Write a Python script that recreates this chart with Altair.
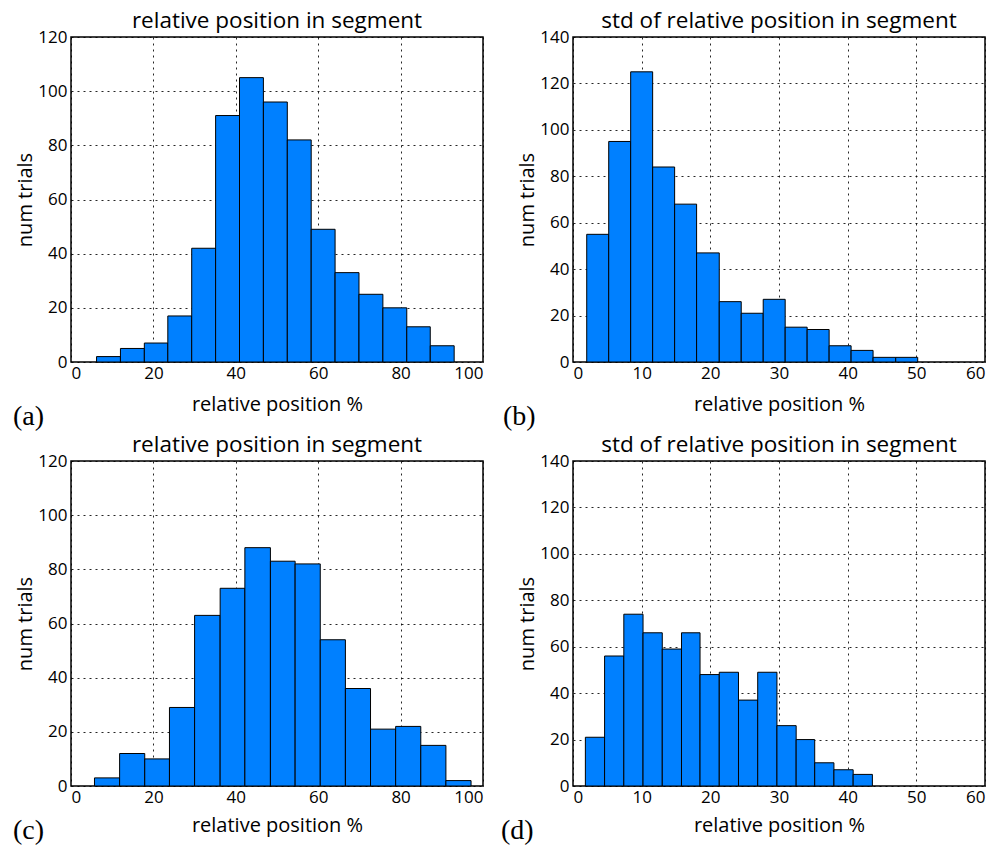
import altair as alt
import pandas as pd

# ---- data ----
a_edges = [6.2, 12.0, 17.8, 23.5, 29.3, 35.1, 40.9, 46.7, 52.5, 58.3, 64.1, 69.9, 75.7, 81.5, 87.2, 93.0]
a_counts = [2, 5, 7, 17, 42, 91, 105, 96, 82, 49, 33, 25, 20, 13, 6]

b_edges = [2.0, 5.2, 8.4, 11.6, 14.8, 18.0, 21.3, 24.5, 27.7, 30.9, 34.1, 37.3, 40.5, 43.7, 47.0, 50.2]
b_counts = [55, 95, 125, 84, 68, 47, 26, 21, 27, 15, 14, 7, 5, 2, 2]

c_edges = [5.7, 11.8, 17.9, 23.9, 30.0, 36.2, 42.2, 48.4, 54.4, 60.5, 66.6, 72.7, 78.8, 84.9, 91.0, 97.1]
c_counts = [3, 12, 10, 29, 63, 73, 88, 83, 82, 54, 36, 21, 22, 15, 2]

d_edges = [1.8, 4.6, 7.4, 10.2, 13.0, 15.8, 18.5, 21.3, 24.1, 26.9, 29.7, 32.5, 35.2, 38.0, 40.8, 43.6]
d_counts = [21, 56, 74, 66, 59, 66, 48, 49, 37, 49, 26, 20, 10, 7, 5]

title_pos = "relative position in segment"
title_std = "std of relative position in segment"
x_title = "relative position %"
y_title = "num trials"
x_ticks_pos = [0, 20, 40, 60, 80, 100]
x_ticks_std = [0, 10, 20, 30, 40, 50, 60]
y_ticks_pos = [0, 20, 40, 60, 80, 100, 120]
y_ticks_std = [0, 20, 40, 60, 80, 100, 120, 140]

FILL = "#0080ff"
FONT = "Open Sans"
W, H = 412, 325


def panel(edges, counts, xticks, yticks, title, tag, tag_dx, tag_dy, xtp):
    df = pd.DataFrame({"x0": edges[:-1], "x1": edges[1:], "n": counts})
    bars = alt.Chart(df).mark_bar(
        fill=FILL, stroke="black", strokeWidth=1, opacity=1
    ).encode(
        x=alt.X("x0:Q",
                scale=alt.Scale(domain=[xticks[0], xticks[-1]], nice=False, zero=False),
                axis=alt.Axis(values=xticks, title=x_title, labelPadding=3,
                              titlePadding=xtp)),
        x2="x1:Q",
        y=alt.Y("n:Q",
                scale=alt.Scale(domain=[yticks[0], yticks[-1]], nice=False),
                axis=alt.Axis(values=yticks, title=y_title, labelPadding=4,
                              titlePadding=2)),
        y2=alt.datum(0),
    )
    lab = alt.Chart(pd.DataFrame({"t": [tag]})).mark_text(
        font="Liberation Serif", fontSize=28, align="left", baseline="middle", color="black"
    ).encode(
        text="t:N", x=alt.value(tag_dx), y=alt.value(H + tag_dy)
    )
    return alt.layer(bars, lab).properties(
        width=W, height=H,
        title=alt.Title(title, fontSize=22.5, font=FONT, fontWeight="normal",
                        color="black", offset=-4, anchor="middle"),
    )


pa = panel(a_edges, a_counts, x_ticks_pos, y_ticks_pos, title_pos, "(a)", -58, 55, 13)
pb = panel(b_edges, b_counts, x_ticks_std, y_ticks_std, title_std, "(b)", -70, 55, 13)
pc = panel(c_edges, c_counts, x_ticks_pos, y_ticks_pos, title_pos, "(c)", -58, 45, 10)
pd_ = panel(d_edges, d_counts, x_ticks_std, y_ticks_std, title_std, "(d)", -72, 45, 10)

chart = alt.concat(
    pa, pb, pc, pd_, columns=2,
    spacing={"row": 99, "column": 90}, bounds="flush",
).properties(
    padding={"left": 4, "top": 0, "right": 5, "bottom": 0},
    background="white",
).configure_view(
    stroke="black", strokeWidth=1.5
).configure_axis(
    labelFont=FONT, labelFontSize=17, labelColor="black",
    titleFont=FONT, titleFontSize=20, titleFontWeight="normal", titleColor="black",
    ticks=False, domain=False,
    grid=True, gridColor="black", gridDash=[2, 4], gridWidth=1, gridOpacity=0.85,
)

chart.save("out.html", embed_options={"renderer": "svg", "actions": False})
